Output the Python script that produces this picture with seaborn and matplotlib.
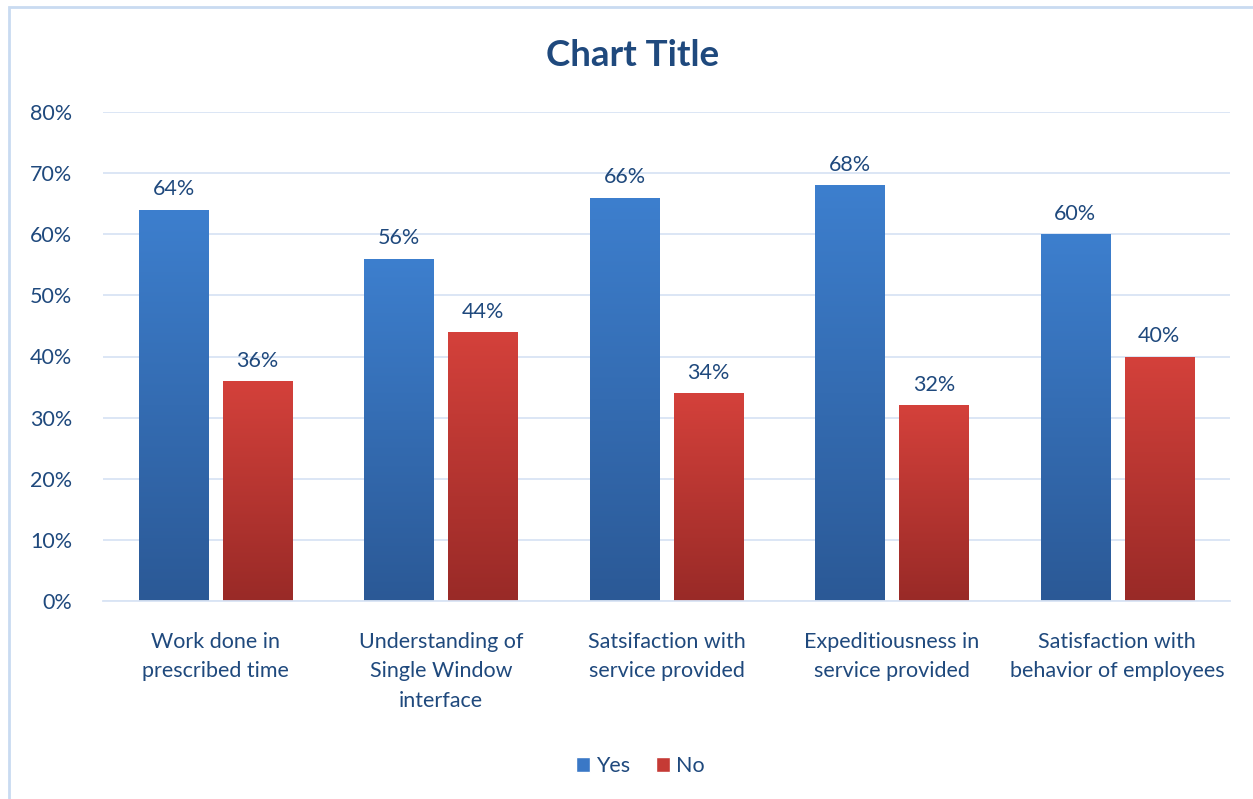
import numpy as np
import pandas as pd
import matplotlib
matplotlib.use("Agg")
import matplotlib.pyplot as plt
import seaborn as sns
from matplotlib.colors import LinearSegmentedColormap
from matplotlib.patches import Rectangle

# 데이터
categories = ["Work done in\nprescribed time",
              "Understanding of\nSingle Window\ninterface",
              "Satsifaction with\nservice provided",
              "Expeditiousness in\nservice provided",
              "Satisfaction with\nbehavior of employees"]
yes_vals = [0.64, 0.56, 0.66, 0.68, 0.60]
no_vals = [0.36, 0.44, 0.34, 0.32, 0.40]
series = ["Yes", "No"]

df = pd.DataFrame({
    "cat": categories * 2,
    "val": yes_vals + no_vals,
    "series": ["Yes"] * len(categories) + ["No"] * len(categories),
})

sns.set_theme(style="white")
plt.rcParams["font.family"] = ["Lato", "DejaVu Sans"]
txt = "#1F497D"

fig = plt.figure(figsize=(12.53, 7.99), dpi=100)
ax = fig.add_axes([103 / 1253, 1 - 601 / 799, 1127 / 1253, 489 / 799])

colors = {"Yes": "#3A78C6", "No": "#C53A35"}
sns.barplot(data=df, x="cat", y="val", hue="series", hue_order=series,
            palette=colors, width=0.745, gap=0.175, ax=ax, legend=False,
            saturation=1, errorbar=None)

# 그라데이션
grads = {
    "Yes": LinearSegmentedColormap.from_list("b", ["#2B5996", "#3D7FCE"]),
    "No": LinearSegmentedColormap.from_list("r", ["#992A27", "#D4413B"]),
}
grad = np.linspace(0, 1, 256).reshape(-1, 1)
for container, s in zip(ax.containers, series):
    for bar in container:
        x0, w, h = bar.get_x(), bar.get_width(), bar.get_height()
        bar.set_facecolor("none")
        bar.set_edgecolor("none")
        im = ax.imshow(grad, cmap=grads[s], origin="lower", aspect="auto",
                       extent=[x0, x0 + w, 0, h], zorder=2)
        clip = Rectangle((x0, 0), w, h, transform=ax.transData)
        im.set_clip_path(clip)
        ax.text(x0 + w / 2, h + 0.017, f"{h * 100:.0f}%", ha="center",
                va="bottom", fontsize=15.5, color=txt)
ax.set_ylim(0, 0.8)
ax.set_xlim(-0.5, len(categories) - 0.5)

ax.set_yticks(np.arange(0, 0.81, 0.1))
ax.set_yticklabels([f"{int(round(v * 100))}%" for v in np.arange(0, 0.81, 0.1)],
                   fontsize=15.5, color=txt)
ax.set_xticks(range(len(categories)))
ax.set_xticklabels(categories, linespacing=1.6)
ax.tick_params(axis="y", length=0, pad=22)
ax.tick_params(axis="x", length=0, pad=22, labelsize=15.5, labelcolor=txt)
ax.grid(axis="y", color="#D9E4F4", linewidth=1.3)
ax.set_axisbelow(True)
for sp in ["top", "right", "left"]:
    ax.spines[sp].set_visible(False)
ax.spines["bottom"].set_color("#D9E4F4")
ax.spines["bottom"].set_linewidth(1.3)
ax.set_xlabel("")
ax.set_ylabel("")

fig.text(0.505, 1 - 56 / 799, "Chart Title", ha="center", va="center",
         fontsize=26.5, fontweight="bold", color=txt)

# 범례
handles = [Rectangle((0, 0), 1, 1, facecolor=colors[s]) for s in series]
fig.legend(handles, series, loc="center", bbox_to_anchor=(0.511, 1 - 766 / 799),
           ncol=2, frameon=False, fontsize=15.5, labelcolor=txt,
           handlelength=0.65, handleheight=0.65, handletextpad=0.3,
           columnspacing=1.2)

# 테두리
fig.patches.append(Rectangle((9 / 1253, -0.05), 1.1, 1 - 7 / 799 + 0.05,
                             transform=fig.transFigure, fill=False,
                             edgecolor="#C9DBF1", linewidth=2))

fig.savefig("out.png", dpi=100)
